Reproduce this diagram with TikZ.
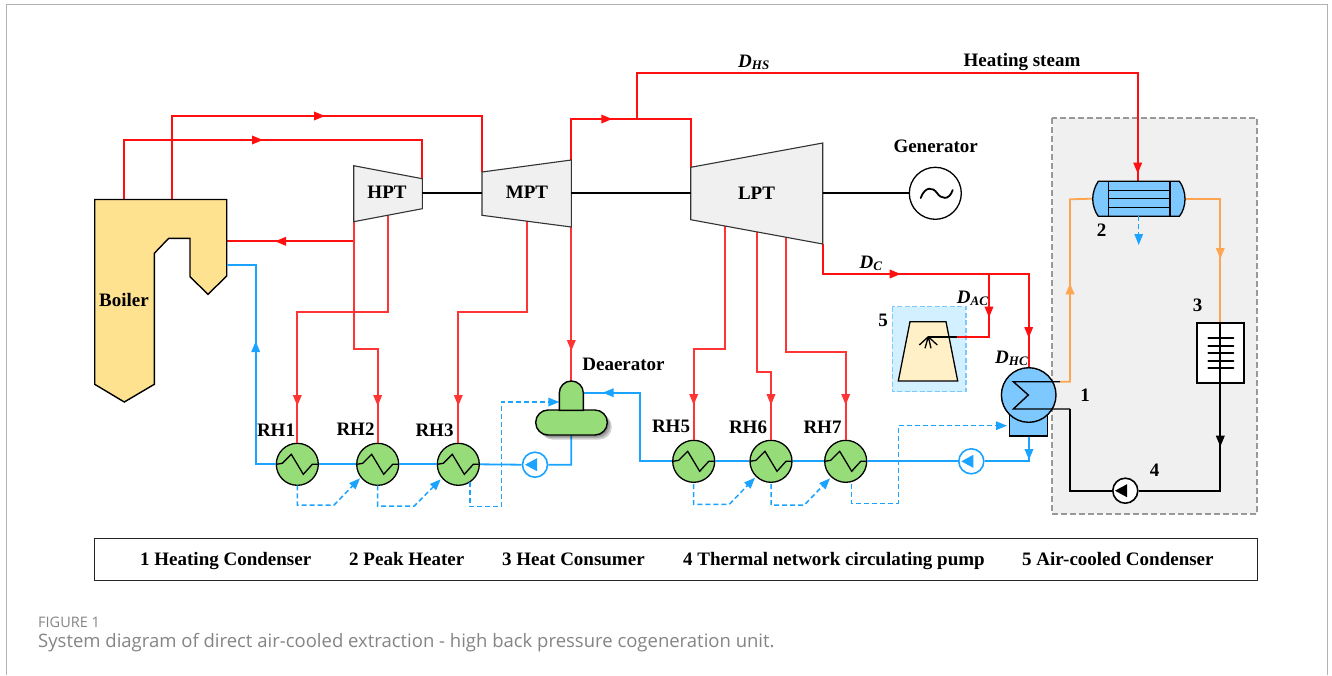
\documentclass[tikz,border=0pt]{standalone}
\usepackage{fontspec}
\setmainfont{Liberation Serif}
\newfontfamily\capfont{Open Sans}
\usetikzlibrary{arrows.meta,decorations.markings,calc}
\definecolor{rd}{HTML}{FF1010}
\definecolor{bl}{HTML}{1AA3FF}
\definecolor{orng}{HTML}{FFA552}
\definecolor{grn}{HTML}{96DC78}
\definecolor{sky}{HTML}{7DC8FF}
\definecolor{sand}{HTML}{FFE290}
\definecolor{turb}{HTML}{F0F0F0}
\definecolor{tower}{HTML}{FFF0C8}
\definecolor{airbox}{HTML}{D2F0FF}
\tikzset{
 x=1pt,y=-1pt,
 tip/.style={-{Triangle[length=11pt,width=8.5pt]}},
 tipat/.style={postaction={decorate,decoration={markings,mark=at position #1 with {\arrow{Triangle[length=11pt,width=8.5pt]}}}}},
 redl/.style={draw=rd,line width=1.8pt},
 redt/.style={draw=rd!85,line width=1.8pt},
 blul/.style={draw=bl,line width=1.8pt},
 dashl/.style={draw=bl,line width=1.5pt,dash pattern=on 5pt off 3pt},
 orl/.style={draw=orng,line width=1.8pt},
 blkl/.style={draw=black,line width=1.8pt},
 shaft/.style={draw=black,line width=2pt},
 turbine/.style={draw=black!80,fill=turb,line width=1.1pt},
 lab/.style={font=\fontsize{19}{19}\selectfont\bfseries,inner sep=0pt,text height=12.5pt,text depth=0pt},
 ital/.style={font=\fontsize{19}{19}\selectfont\bfseries\itshape,inner sep=0pt,text height=12.5pt,text depth=0pt},
 heat/.style={circle,draw=black,fill=grn,line width=1.3pt,minimum size=42pt,inner sep=0pt},
 pumpb/.style={circle,draw=bl,fill=white,line width=1.6pt,minimum size=25pt,inner sep=0pt},
 pumpk/.style={circle,draw=black,fill=white,line width=1.6pt,minimum size=25pt,inner sep=0pt},
}
\newcommand{\subt}[1]{\textsubscript{\fontsize{13}{13}\selectfont #1}}
\begin{document}
\begin{tikzpicture}
\useasboundingbox (0,0) rectangle (1332,675);
\fill[white] (0,0) rectangle (1332,675);
\draw[black!30,line width=1pt] (6.5,675) -- (6.5,4.5) -- (1327.5,4.5) -- (1327.5,675);

% gray zone
\path[fill=turb,draw=black!40,line width=1.8pt,dash pattern=on 6pt off 3pt] (1051.7,118.3) rectangle (1257.3,514);
% air cooled
\path[fill=airbox,draw=sky,line width=1.5pt,dash pattern=on 5pt off 2.5pt] (892.3,306.7) rectangle (966,391.7);

% named nodes
\node[heat] (rh1) at (297.3,464.3) {};
\node[heat] (rh2) at (377.7,464.3) {};
\node[heat] (rh3) at (458.3,464.3) {};
\node[heat] (rh5) at (693.7,461.3) {};
\node[heat] (rh6) at (771,461.3) {};
\node[heat] (rh7) at (845.7,461.3) {};
\coordinate (bo) at (226.7,264.7);

% red steam lines
\draw[redl,tipat=236.5pt] (172,199.5) -- (172,116) -- (482,116) -- (482,172);
\draw[redl,tipat=198.2pt] (124.3,199.5) -- (124.3,140) -- (422.3,140) -- (422.3,178.7);
\draw[redl,tipat=79pt] (354,241.3) -- (226.7,241.3);
\draw[redt,tipat=281.7pt] (388,215) -- (388,312.3) -- (297.3,312.3) -- (rh1.north);
\draw[redt,tipat=208pt] (354,221.7) -- (354,349.3) -- (377.7,349.3) -- (rh2.north);
\draw[redt,tipat=253.4pt] (526.7,221) -- (526.7,312.3) -- (458.3,312.3) -- (rh3.north);
\draw[redt,tipat=124pt] (571.3,227) -- (571.3,381);
\draw[redl,tipat=82pt] (571.3,160) -- (571.3,119) -- (690.7,119) -- (690.7,167.3);
\draw[redl,tipat=647.3pt] (637,119) -- (637,73) -- (1137.7,73) -- (1137.7,181.3);
\draw[redt,tipat=210.6pt] (725.3,226) -- (725.3,349.3) -- (693.7,349.3) -- (rh5.north);
\draw[redt,tipat=187.4pt] (756.7,232) -- (756.7,371.7) -- (771,371.7) -- (rh6.north);
\draw[redt,tipat=227.3pt] (786,237.4) -- (786,352) -- (845.7,352) -- (rh7.north);
\draw[redl,tipat=108pt,tipat=300pt] (822.7,244) -- (822.7,274) -- (1028.7,274) -- (1028.7,367.7);
\draw[redl,tipat=43.6pt] (989,274) -- (989,336.7) -- (957.3,336.7);

% boiler
\draw[black,fill=sand,line width=1.4pt] (94.7,199.5) -- (226.7,199.5) -- (226.7,276) -- (208,294.3) -- (190,276.7) -- (190,238.3) -- (168.7,238.3) -- (154.3,253.3) -- (154.3,384.3) -- (124.3,402) -- (94.7,384.3) -- cycle;
\node[lab] (boiler) at (124,300.5) {Boiler};

% turbines
\draw[turbine] (353.7,165.7) -- (422.3,178.7) -- (422.3,208.7) -- (353.7,221.7) -- cycle;
\draw[turbine] (482,172) -- (571.3,160) -- (571.3,227) -- (482,215.3) -- cycle;
\draw[turbine] (690.7,167.3) -- (822.7,143) -- (822.7,244) -- (690.7,219.7) -- cycle;
\node[lab] (hpt) at (387,192.5) {HPT};
\node[lab] (mpt) at (527,192.5) {MPT};
\node[lab] (lpt) at (756.5,193) {LPT};
\node[circle,draw=black,fill=white,line width=1.3pt,minimum size=52pt,inner sep=0pt] (gen) at (935.3,193.3) {};
\draw[black,line width=1.8pt,line cap=round] (920.7,198) .. controls (925,186) and (933,187) .. (937,193) .. controls (941,199) and (949,201) .. (952.7,190);
\draw[shaft] (422.3,193.3) -- (482,193.3);
\draw[shaft] (571.3,193.3) -- (690.7,193.3);
\draw[shaft] (822.7,193.3) -- (gen.west);

% feedwater
\draw[blul,tipat=143.2pt] (rh1.west) -- (255.7,464.3) -- (255.7,264.7) -- (bo);
\draw[blul] (rh1.east) -- (rh2.west) (rh2.east) -- (rh3.west);
\node[pumpb] (p1) at (535,464.7) {};
\draw[blul] (rh3.east) -- (p1.west) (p1.east) -- (571.3,464.7) -- (571.3,435);
\fill[bl] (525,464.7) -- (537,458.2) -- (537,471.2) -- cycle;
\draw[blul,tipat=138pt] (rh5.west) -- (640,461.3) -- (640,392.7) -- (583.3,392.7);
\draw[blul] (rh5.east) -- (rh6.west) (rh6.east) -- (rh7.west);
\node[pumpb] (p2) at (971.3,461.3) {};
\draw[blul] (rh7.east) -- (p2.west);
\draw[blul,tipat=24pt] (1029,436) -- (1029,461.3) -- (p2.east);
\fill[bl] (961.3,461.3) -- (973.3,454.8) -- (973.3,467.8) -- cycle;

% heaters inner
\foreach \n in {rh1,rh2,rh3,rh5,rh6,rh7}{
 \draw[black,line width=1.3pt] ($(\n)+(-21,0)$) -- ($(\n)+(-15,-1)$) -- ($(\n)+(-6,-10)$) -- ($(\n)+(6,10)$) -- ($(\n)+(15,0)$) -- ($(\n)+(21,0)$);
}
% drains
\draw[dashl,tip] (297.3,485.3) -- (297.3,505) -- (334,505) -- (360,478.3);
\draw[dashl,tip] (377.7,485.3) -- (377.7,506) -- (414.3,506) -- (440.7,479.3);
\draw[dashl,tip] (470,481.7) -- (470,506.7) -- (501.7,506.7) -- (501.7,402) -- (559.3,402);
\draw[dashl,tip] (693.7,484) -- (693.7,504.3) -- (729.3,504.3) -- (755,477.7);
\draw[dashl,tip] (771,484) -- (771,505) -- (804.3,505) -- (830,478.3);
\draw[dashl,tip] (851.7,484) -- (851.7,503.3) -- (898.3,503.3) -- (898.3,425.7) -- (1007,425.7);

% deaerator
\foreach \s in {1.5,3,4.5}{\fill[black,opacity=.18,rounded corners=12.4pt] (535.7+\s,410+\s) rectangle (607.3+\s,435+\s);}
\draw[black,fill=grn,line width=1.4pt,rounded corners=12.4pt] (535.7,410) rectangle (607.3,435);
\draw[black,fill=grn,line width=1.4pt] (559.3,410.4) -- (559.3,393) [rounded corners=11.9pt] -- (559.3,381) -- (583.3,381) [sharp corners] -- (583.3,393) -- (583.3,410.4) -- cycle;
\node[lab] (dea) at (623.5,364) {Deaerator};

% air cooled tower
\draw[black,fill=tower,line width=1.3pt] (910,321.7) -- (946,321.7) -- (957.7,381) -- (898.3,381) -- cycle;
\draw[blkl] (957.3,336.7) -- (928.3,336.7);
\draw[black,line width=1.3pt] (928.3,336.7) -- (919.3,345) (928.3,336.7) -- (925,348.3) (928.3,336.7) -- (931,348.3) (928.3,336.7) -- (937.3,345);

% condenser
\draw[black,fill=sky,line width=1.3pt] (1009.3,410) rectangle (1047.7,436);
\draw[orl,tipat=108.4pt] (1060,381.7) -- (1070,381.7) -- (1070,199.3) -- (1092.7,198.7);
\draw[orl,tipat=95.3pt] (1185,199) -- (1220.3,199) -- (1220.3,322.7);
\node[circle,draw=black,fill=sky,line width=1.4pt,minimum size=54.6pt,inner sep=0pt] (hc) at (1028.7,395) {};
\draw[black,line width=1.4pt] (1060,381.7) -- (1013.3,381.7) -- (1028.3,395) -- (1013.3,409) -- (1070,409);
\node[pumpk] (p3) at (1125.3,490.7) {};
\draw[blkl] (1070,409) -- (1070,490.7) -- (p3.west);
\fill[black] (1115,490.7) -- (1127,484.2) -- (1127,497.2) -- cycle;
\draw[blkl,tipat=63.4pt] (1220.3,383.3) -- (1220.3,490.7) -- (p3.east);

% peak heater
\draw[black,fill=sky,line width=1.3pt] (1098.3,181.3) -- (1179.4,181.3) .. controls (1183,186) and (1185,193) .. (1185,199) .. controls (1185,205) and (1183,212) .. (1179.4,216.3) -- (1098.3,216.3) .. controls (1095,212) and (1092.7,205) .. (1092.7,199) .. controls (1092.7,193) and (1095,186) .. (1098.3,181.3) -- cycle;
\draw[black,line width=1.5pt] (1108.3,181.3) -- (1108.3,216.3) (1170,181.3) -- (1170,216.3);
\draw[black,line width=1.3pt] (1108.3,190.3) -- (1170,190.3) (1108.3,198.7) -- (1170,198.7) (1108.3,207.3) -- (1170,207.3);
\draw[dashl,tip] (1138.7,216.3) -- (1138.7,245);

% consumer
\draw[black,fill=white,line width=2.2pt] (1196.7,322.7) rectangle (1244,383.3);
\draw[black,line width=1.8pt] (1220.3,322.7) -- (1220.3,383.3);
\foreach \yy in {338.3,345.7,353.3,360.7,368.3}{\draw[black,line width=2pt,line cap=round] (1208.3,\yy) -- (1233.3,\yy);}

% labels
\node[lab] (l1) at (276,430.7) {RH1};
\node[lab] (l2) at (355.5,429.3) {RH2};
\node[lab] (l3) at (434.5,430.7) {RH3};
\node[lab] (l5) at (671,426.7) {RH5};
\node[lab] (l6) at (748,427.3) {RH6};
\node[lab] (l7) at (822.5,427) {RH7};
\node[lab] (g) at (935.7,146.7) {Generator};
\node[lab] (hs) at (1022,60.5) {Heating steam};
\node[ital] (dhs) at (754,61) {D\subt{HS}};
\node[ital] (dc) at (871,262) {D\subt{C}};
\node[ital] (dac) at (972.7,297) {D\subt{AC}};
\node[ital] (dhc) at (1011.7,357) {D\subt{HC}};
\node[lab] (n1) at (1085,395) {1};
\node[lab] (n2) at (1101.7,230.7) {2};
\node[lab] (n3) at (1197.7,305) {3};
\node[lab] (n4) at (1154.7,470) {4};
\node[lab] (n5) at (883,320) {5};

% legend
\draw[black!85,line width=.9pt] (94,538.5) rectangle (1257,580);
\node[lab,anchor=west] (t1) at (140,559.5) {1 Heating Condenser};
\node[lab,anchor=west] (t2) at (349,559.5) {2 Peak Heater};
\node[lab,anchor=west] (t3) at (502,559.5) {3 Heat Consumer};
\node[lab,anchor=west] (t4) at (683,559.5) {4 Thermal network circulating pump};
\node[lab,anchor=west] (t5) at (1022,559.5) {5 Air-cooled Condenser};
% caption
\node[anchor=west,inner sep=0pt,text=black!48,font=\capfont\fontsize{14.5}{15}\selectfont] (c1) at (38,622) {FIGURE 1};
\node[anchor=west,inner sep=0pt,text=black!48,font=\capfont\fontsize{18.5}{19}\selectfont] (c2) at (38,642.5) {System diagram of direct air-cooled extraction - high back pressure cogeneration unit.};
\end{tikzpicture}
\end{document}
